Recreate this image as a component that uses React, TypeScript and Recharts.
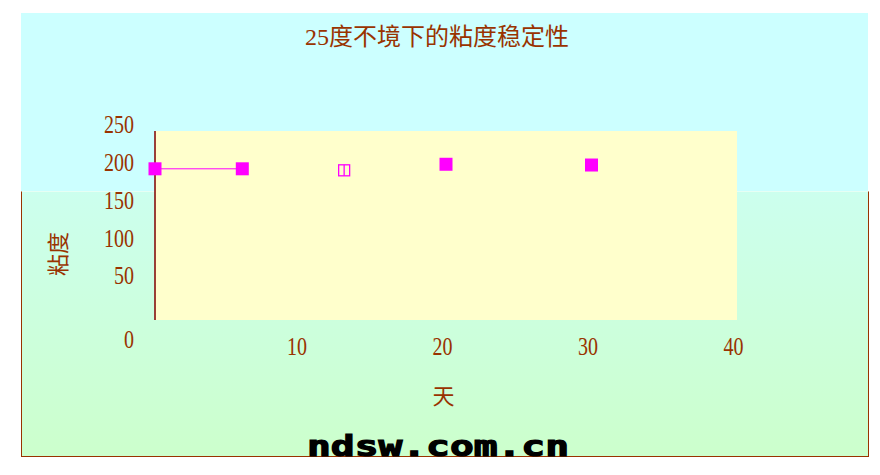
import React from "react";
import {
  ScatterChart,
  Scatter,
  XAxis,
  YAxis,
  CartesianGrid,
  ReferenceLine,
} from "recharts";

// ---- data ----
const titleText = "25度不境下的粘度稳定性";
const yAxisLabel = "粘度";
const xAxisLabel = "天";
const watermark = "ndsw.com.cn";

const xTicks = [10, 20, 30, 40];
const yTicks = [0, 50, 100, 150, 200, 250];

// first series: points joined by a line
const connectedDays = [0, 6];
const connectedVisc = [200, 200];
// hollow marker
const hollowDays = [13];
const hollowVisc = [198];
// unconnected filled markers
const looseDays = [20, 30];
const looseVisc = [206, 205];

const toRows = (days: number[], vals: number[]) =>
  days.map((d, i) => ({ day: d, v: vals[i] }));

const connectedRows = toRows(connectedDays, connectedVisc);
const hollowRows = toRows(hollowDays, hollowVisc);
const looseRows = toRows(looseDays, looseVisc);

// ---- styling ----
const BROWN = "#993300";
const AXIS = "#800000";
const MAGENTA = "#FF00FF";
const SERIF = "'Liberation Serif', 'Times New Roman', serif";
const CJK = "'Liberation Serif', 'Noto Sans CJK SC', serif";

const W = 880;
const H = 475;
const PLOT_LEFT = 155;
const PLOT_TOP = 131;
const PLOT_RIGHT = 737;
const PLOT_BOTTOM = 320;

const FilledSquare = (props: any) => {
  const { cx, cy } = props;
  if (cx == null || cy == null) return <g />;
  const s = 13;
  return <rect x={cx - s / 2} y={cy - s / 2} width={s} height={s} fill={MAGENTA} />;
};

const HollowSquare = (props: any) => {
  const { cx, cy } = props;
  if (cx == null || cy == null) return <g />;
  const s = 11;
  return (
    <g>
      <rect
        x={cx - s / 2}
        y={cy - s / 2}
        width={s}
        height={s}
        fill="none"
        stroke={MAGENTA}
        strokeWidth={1.3}
      />
      <line x1={cx} y1={cy - s / 2} x2={cx} y2={cy + s / 2} stroke={MAGENTA} strokeWidth={1.3} />
    </g>
  );
};

const YTick = (props: any) => {
  const { x, y, payload } = props;
  const v = payload.value;
  const ty = v === 0 ? y + 20 : y - 6;
  return (
    <text
      transform={`translate(${x},${ty}) scale(0.8,1)`}
      textAnchor="end"
      dy="0.33em"
      fontSize={25}
      fontFamily={SERIF}
      fill={BROWN}
    >
      {v}
    </text>
  );
};

const XTick = (props: any) => {
  const { x, y, payload } = props;
  return (
    <text
      transform={`translate(${x - 3.5},${y + 27}) scale(0.8,1)`}
      textAnchor="middle"
      dy="0.33em"
      fontSize={25}
      fontFamily={SERIF}
      fill={BROWN}
    >
      {payload.value}
    </text>
  );
};

export default function App() {
  return (
    <div
      style={{
        position: "fixed",
        left: 0,
        top: 0,
        width: W,
        height: H,
        background: "#FFFFFF",
        overflow: "hidden",
      }}
    >
      {/* upper flat cyan panel */}
      <div
        style={{
          position: "absolute",
          left: 21,
          top: 13,
          width: 847,
          height: 178,
          background: "#CCFFFF",
        }}
      />
      {/* lower gradient panel with border */}
      <div
        style={{
          position: "absolute",
          left: 21,
          top: 191,
          width: 848,
          height: 266,
          boxSizing: "border-box",
          borderLeft: `1px solid ${BROWN}`,
          borderRight: `1px solid ${BROWN}`,
          borderBottom: `1px solid ${BROWN}`,
          borderTop: "1px solid #E6FFF4",
          background: "linear-gradient(#CCFFEE, #CCFFCC)",
        }}
      />
      <div style={{ position: "absolute", left: 0, top: 0 }}>
        <ScatterChart
          width={W}
          height={H}
          margin={{
            top: PLOT_TOP,
            left: PLOT_LEFT - 60,
            right: W - PLOT_RIGHT,
            bottom: H - PLOT_BOTTOM - 30,
          }}
        >
          <CartesianGrid fill="#FFFFCC" horizontal={false} vertical={false} stroke="none" />
          <XAxis
            type="number"
            dataKey="day"
            domain={[0, 40]}
            ticks={xTicks}
            interval={0}
            axisLine={false}
            tickLine={false}
            tickSize={0}
            tickMargin={0}
            height={30}
            tick={<XTick />}
          />
          <YAxis
            type="number"
            dataKey="v"
            domain={[0, 250]}
            ticks={yTicks}
            interval={0}
            width={60}
            axisLine={{ stroke: AXIS, strokeWidth: 1 }}
            tickLine={false}
            tickSize={0}
            tickMargin={21}
            tick={<YTick />}
          />
          <Scatter
            data={connectedRows}
            fill={MAGENTA}
            line={{ stroke: MAGENTA, strokeWidth: 1 }}
            lineType="joint"
            shape={<FilledSquare />}
            isAnimationActive={false}
          />
          <Scatter
            data={hollowRows}
            fill={MAGENTA}
            shape={<HollowSquare />}
            isAnimationActive={false}
          />
          <Scatter
            data={looseRows}
            fill={MAGENTA}
            shape={<FilledSquare />}
            isAnimationActive={false}
          />
          <ReferenceLine x={0} stroke={AXIS} strokeWidth={1} ifOverflow="visible" />
        </ScatterChart>
      </div>
      {/* static texts */}
      <svg
        width={W}
        height={H}
        style={{ position: "absolute", left: 0, top: 0, pointerEvents: "none" }}
      >
        <text
          x={437}
          y={37}
          dy="0.35em"
          textAnchor="middle"
          fontSize={24}
          fontFamily={CJK}
          fill={BROWN}
        >
          {titleText}
        </text>
        <text
          transform="translate(58,254) rotate(-90)"
          textAnchor="middle"
          dy="0.35em"
          fontSize={22}
          fontFamily={CJK}
          fill={BROWN}
        >
          {yAxisLabel}
        </text>
        <text
          x={443.5}
          y={396}
          dy="0.35em"
          textAnchor="middle"
          fontSize={22}
          fontFamily={CJK}
          fill={BROWN}
        >
          {xAxisLabel}
        </text>
        <text
          x={307}
          y={456}
          textLength={262}
          lengthAdjust="spacingAndGlyphs"
          fontSize={28}
          fontWeight="bold"
          fontFamily="'DejaVu Sans Mono', monospace"
          fill="#000000"
          stroke="#000000"
          strokeWidth={1.2}
        >
          {watermark}
        </text>
      </svg>
    </div>
  );
}
